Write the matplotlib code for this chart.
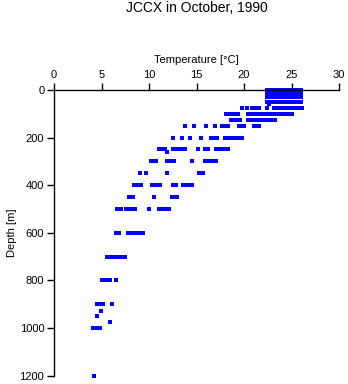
import matplotlib.pyplot as plt

plt.rcParams['font.family'] = ['Liberation Sans', 'DejaVu Sans']

# temperature readings (deg C) at each sampled depth (m)
t_surface = [22.4, 22.65, 22.9, 23.15, 23.4, 23.6, 23.8, 24.2, 24.45, 24.7,
             24.95, 25.2, 25.45, 25.7, 25.95]
t_50 = [22.4, 22.7, 22.95, 23.25, 23.55, 23.85, 24.15, 24.4, 24.65, 24.9,
        25.15, 25.4, 25.65, 25.9, 26.05]
t_60 = [22.6]
t_75 = [19.8, 20.3, 20.8, 21.05, 21.3, 21.6, 22.45, 23.2, 23.45, 23.7, 23.95,
        24.2, 24.45, 24.7, 24.95, 25.2, 25.45, 25.7, 25.95, 26.1]
t_100 = [18.15, 18.4, 18.65, 18.9, 19.15, 19.4, 20.4, 20.65, 20.9, 21.15,
         21.3, 21.6, 21.85, 22.1, 22.35, 22.6, 22.85, 23.1, 23.35, 23.6,
         23.95, 24.2, 24.45, 24.7, 25.0]
t_125 = [18.6, 18.85, 19.1, 19.35, 19.6, 20.4, 20.65, 20.9, 21.15, 21.4,
         21.75, 22.1, 22.35, 22.6, 23.0, 23.25]
t_150 = [13.75, 14.7, 16.0, 16.95, 17.65, 17.9, 18.1, 18.35, 19.5, 19.75,
         20.05, 21.05, 21.3, 21.6]
t_200 = [12.55, 13.45, 14.3, 15.45, 16.5, 16.7, 16.9, 17.2, 18.0, 18.25,
         18.5, 18.75, 19.0, 19.25, 19.5, 19.75]
t_250 = [11.0, 11.3, 11.7, 12.55, 12.8, 13.3, 13.55, 13.8, 15.2, 15.9, 16.25,
         17.1, 17.35, 17.6, 17.85, 18.1, 18.35]
t_262 = [11.9]
t_300 = [10.2, 10.45, 10.7, 11.85, 12.1, 12.35, 12.6, 14.5, 15.9, 16.2, 16.5,
         16.8, 17.1]
t_350 = [9.05, 9.65, 11.9, 15.3, 15.7]
t_400 = [8.45, 8.7, 8.95, 9.2, 10.3, 10.55, 10.85, 11.15, 12.55, 12.85,
         13.6, 13.9, 14.2, 14.55]
t_450 = [7.9, 8.35, 10.55, 12.45, 12.7, 12.9]
t_500 = [6.65, 7.0, 7.55, 7.95, 8.2, 8.5, 10.0, 11.1, 11.4, 11.7, 11.95,
         12.15]
t_600 = [6.5, 6.85, 7.75, 8.0, 8.35, 8.6, 9.05, 9.4]
t_700 = [5.55, 5.8, 6.05, 6.25, 6.55, 6.8, 7.05, 7.25, 7.5]
t_800 = [5.1, 5.35, 5.6, 5.9, 6.55]
t_900 = [4.5, 4.75, 5.0, 5.2, 6.1]
t_930 = [4.9]
t_950 = [4.5]
t_977 = [5.85]
t_1000 = [4.15, 4.4, 4.65, 4.8]
t_1200 = [4.25]

profiles = [(0, t_surface), (10, t_surface), (20, t_surface), (30, t_surface),
            (50, t_50), (60, t_60), (75, t_75), (100, t_100), (125, t_125),
            (150, t_150), (200, t_200), (250, t_250), (262, t_262),
            (300, t_300), (350, t_350), (400, t_400), (450, t_450),
            (500, t_500), (600, t_600), (700, t_700), (800, t_800),
            (900, t_900), (930, t_930), (950, t_950), (977, t_977),
            (1000, t_1000), (1200, t_1200)]

fig = plt.figure(figsize=(3.48, 3.84), dpi=100)
ax = fig.add_axes([54 / 348, 1 - 375.5 / 384, 285 / 348, 285.5 / 384])

for depth, temps in profiles:
    ax.plot(temps, [depth] * len(temps), 's', color='#0000ff', ms=2.3,
            mew=0, linestyle='none', clip_on=False, antialiased=False)

ax.set_xlim(0, 30)
ax.set_ylim(1200, 0)
ax.set_xticks(range(0, 31, 5))
ax.set_yticks(range(0, 1201, 200))
ax.xaxis.tick_top()
ax.xaxis.set_label_position('top')
ax.spines['right'].set_visible(False)
ax.spines['bottom'].set_visible(False)
for s in ('left', 'top'):
    ax.spines[s].set_linewidth(1.0)
ax.tick_params(direction='out', length=5, width=1.0, labelsize=8, pad=2)
ax.set_xlabel('Temperature [°C]', fontsize=8, labelpad=5)
ax.set_ylabel('Depth [m]', fontsize=8, labelpad=2)

fig.text(196.5 / 348, 1 - 8 / 384, 'JCCX in October, 1990', ha='center',
         va='center', fontsize=10)

fig.savefig('out.png', dpi=100)
